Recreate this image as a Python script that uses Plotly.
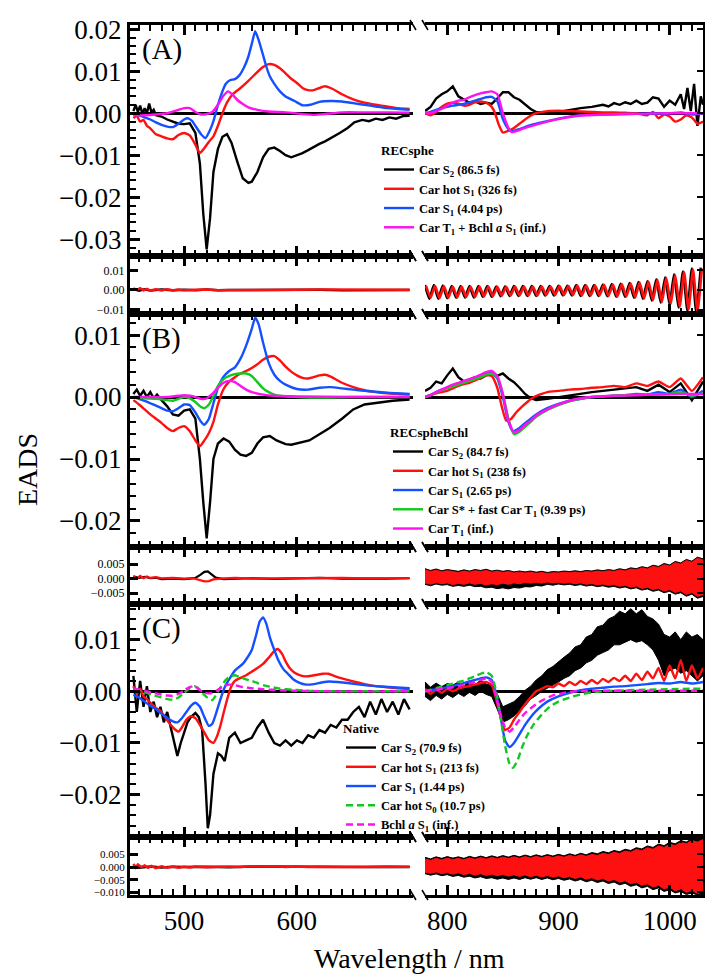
import plotly.graph_objects as go

W, H = 705, 974
FONT = "Liberation Serif, Times New Roman, serif"
U = 1e-3  # data below are in units of 1e-3

# ---------------- axis settings ----------------
LEFT_RANGE = [452, 703]
RIGHT_RANGE = [780, 1030]
ROW_RANGES = [[-0.034, 0.021], [-0.0123, 0.0174], [-0.0242, 0.0134],
              [-0.0088, 0.0109], [-0.0282, 0.0169], [-0.011, 0.0118]]
ROW_TICKS = [[-0.03, -0.02, -0.01, 0.0, 0.01, 0.02], [-0.01, 0.0, 0.01],
             [-0.02, -0.01, 0.0, 0.01], [-0.005, 0.0, 0.005],
             [-0.02, -0.01, 0.0, 0.01], [-0.01, -0.005, 0.0, 0.005]]
ROW_FMT = [".2f", ".2f", ".2f", ".3f", ".2f", ".3f"]
X_TICKS = [500, 600, 800, 900, 1000]

# ---------------- Panel A : RECsphe ----------------
A_S2_LEFT = [(455,0.5),(457,2.0),(459,0.3),(461,1.8),(463,-0.2),(465,1.2),(467,0.0),(469,2.3),(471,0.2),(473,0.8),(475,-0.5),(480,-0.8),(485,-1.5),(490,-2.0),(495,-2.5),(500,-2.6),(505,-2.4),(510,-4.7),(514,-12),(517,-24),(520,-32.4),(523,-25),(526,-14),(530,-8.5),(534,-5.6),(538,-5.0),(542,-7),(547,-11.4),(552,-15.5),(557,-16.6),(560,-16.3),(565,-14),(570,-10.5),(575,-8.5),(580,-8.2),(585,-9),(590,-10),(595,-10.5),(600,-10),(605,-9.5),(610,-8.8),(615,-8),(620,-7.3),(625,-6.7),(630,-6),(638,-4.7),(645,-3.5),(651,-2.2),(658,-1.6),(664,-1.9),(670,-1.3),(676,-1.6),(682,-1.0),(688,-1.3),(694,-0.7),(700,-0.6)]
A_HOT_LEFT = [(455,-1.2),(458,-0.6),(461,-2.0),(464,-1.6),(467,-3.0),(470,-3.6),(475,-5.0),(480,-5.5),(485,-6.0),(490,-6.2),(495,-5.2),(500,-4.7),(505,-5.3),(510,-7.5),(514,-9.5),(518,-8.3),(522,-6.8),(526,-5.5),(530,-3.0),(534,0.0),(538,2.5),(543,4.5),(550,6.0),(557,7.7),(563,9.3),(570,11.0),(575,11.7),(580,11.5),(585,10.7),(590,9.5),(595,8.2),(600,7.2),(605,6.0),(610,5.5),(615,5.5),(620,6.0),(625,6.4),(630,6.0),(635,5.3),(640,4.5),(650,3.3),(660,2.5),(670,2.0),(680,1.6),(690,1.2),(700,1.0)]
A_S1_LEFT = [(455,-0.2),(460,-0.5),(465,-1.0),(470,-1.5),(475,-2.2),(480,-2.8),(485,-3.2),(490,-3.3),(495,-2.5),(500,-1.5),(503,-1.2),(507,-1.8),(510,-3.0),(515,-5.0),(519,-5.9),(523,-4.0),(526,-1.9),(530,2.0),(533,4.5),(537,7.0),(541,7.9),(545,8.1),(549,9.0),(553,10.8),(557,13.5),(560,16.5),(563,19.5),(566,17.5),(569,14.8),(573,11.0),(576,8.8),(580,7.0),(585,5.2),(590,4.0),(598,2.9),(605,1.9),(612,2.0),(620,2.7),(630,2.9),(640,2.8),(650,2.4),(660,2.0),(670,1.6),(680,1.2),(690,1.0),(700,0.8)]
A_T1_LEFT = [(455,-0.5),(465,-0.5),(475,-0.3),(485,0.0),(495,0.8),(500,1.2),(505,1.2),(510,0.3),(515,-0.3),(520,-0.2),(525,0.3),(530,2.0),(535,4.2),(539,5.2),(543,4.4),(547,3.2),(552,2.2),(557,1.4),(565,0.8),(575,0.4),(590,0.2),(605,-0.2),(615,-0.4),(625,-0.2),(640,0.2),(660,0.2),(680,0.2),(700,0.1)]
A_S2_RIGHT = [(780,0.5),(785,1.5),(790,3.5),(795,4.5),(800,5.2),(805,6.4),(810,4.0),(815,3.2),(820,2.5),(825,2.8),(830,2.2),(835,2.5),(840,2.2),(845,3.5),(850,5.0),(855,5.0),(860,3.8),(865,3.2),(870,2.0),(875,1.0),(880,0.3),(890,0.2),(900,0.3),(910,0.8),(920,1.2),(930,1.5),(940,2.0),(945,1.6),(950,2.4),(955,2.0),(960,2.6),(965,2.2),(970,3.0),(975,2.2),(980,2.5),(985,3.8),(990,3.5),(995,1.5),(1000,3.0),(1005,2.0),(1010,4.5),(1013,1.0),(1016,6.0),(1019,0.5),(1022,7.0),(1025,-3.0),(1028,4.0),(1030,2.0)]
A_HOT_RIGHT = [(780,0.0),(785,-0.5),(790,0.3),(795,1.5),(800,2.3),(805,2.5),(810,2.3),(815,1.8),(820,2.0),(825,2.6),(830,2.8),(835,2.5),(840,1.5),(843,0.0),(846,-2.5),(850,-4.6),(855,-4.2),(860,-3.5),(865,-2.5),(870,-1.5),(875,-0.6),(880,0.0),(890,0.5),(900,0.6),(910,0.5),(920,0.4),(930,0.3),(940,0.2),(950,0.2),(960,0.1),(970,0.0),(980,-0.5),(985,0.3),(990,-1.2),(995,-0.3),(1000,-0.8),(1005,-2.0),(1010,-1.5),(1015,-0.5),(1020,-1.0),(1025,-2.5),(1030,-2.0)]
A_S1_RIGHT = [(780,0.0),(785,0.3),(790,0.8),(795,1.2),(800,1.5),(805,1.8),(810,2.0),(815,2.2),(820,2.6),(825,3.0),(830,3.4),(835,3.8),(840,3.9),(845,2.9),(850,-1.4),(855,-3.8),(858,-4.3),(865,-3.8),(872,-3.1),(880,-2.5),(890,-1.9),(900,-1.3),(913,-0.7),(925,-0.4),(943,-0.3),(960,-0.2),(980,-0.1),(1000,0.0),(1010,0.2),(1020,-0.3),(1030,0.0)]
A_T1_RIGHT = [(780,0.0),(785,0.0),(790,0.5),(795,1.0),(800,1.8),(805,2.5),(810,3.0),(815,3.2),(820,3.8),(825,4.3),(830,4.7),(835,5.0),(840,5.2),(845,4.5),(850,0.0),(855,-3.5),(858,-4.5),(865,-4.0),(872,-3.3),(880,-2.7),(890,-2.0),(900,-1.4),(913,-0.8),(925,-0.5),(943,-0.3),(960,-0.2),(980,-0.1),(1000,0.0),(1030,0.0)]

# ---------------- Panel B : RECspheBchl ----------------
B_S2_LEFT = [(455,0.5),(458,1.2),(461,0.2),(464,1.0),(467,0.0),(470,0.8),(473,-0.2),(476,0.4),(480,-0.5),(485,-1.5),(490,-2.8),(495,-3.0),(500,-2.2),(505,-2.0),(510,-3.5),(514,-10),(517,-17),(520,-22.8),(523,-17),(526,-10),(530,-7.5),(535,-6.7),(540,-7.2),(545,-8.5),(550,-9.3),(555,-9.5),(560,-9.0),(565,-7.5),(570,-6.5),(576,-6.3),(582,-7.0),(590,-7.6),(595,-7.7),(600,-7.5),(605,-7.3),(611,-7.0),(620,-6.0),(629,-5.0),(640,-3.5),(650,-2.0),(660,-1.2),(673,-0.9),(685,-0.6),(700,-0.4)]
B_HOT_LEFT = [(455,-0.5),(460,-1.2),(465,-2.0),(470,-2.8),(475,-3.5),(480,-4.2),(485,-5.0),(490,-5.5),(495,-5.0),(500,-4.7),(505,-5.5),(510,-7.0),(514,-7.9),(518,-7.0),(522,-5.8),(526,-4.0),(530,-1.2),(535,1.3),(540,2.5),(545,3.2),(550,3.8),(555,4.2),(560,4.7),(565,5.3),(570,6.0),(575,6.5),(580,6.6),(585,5.9),(590,4.9),(595,4.1),(600,3.5),(605,3.1),(610,3.0),(615,3.2),(620,3.5),(625,3.6),(630,3.3),(635,2.8),(640,2.3),(650,1.6),(660,1.1),(670,0.8),(680,0.6),(690,0.5),(700,0.4)]
B_S1_LEFT = [(455,0.0),(460,-0.3),(465,-0.6),(470,-1.0),(475,-1.4),(480,-1.8),(485,-2.2),(490,-2.3),(495,-1.8),(500,-1.2),(505,-1.3),(510,-2.5),(515,-4.0),(518,-4.5),(522,-3.5),(526,-1.0),(530,1.5),(535,3.3),(540,4.2),(545,4.8),(550,6.2),(555,8.3),(560,11.0),(563,12.8),(566,11.8),(570,8.8),(575,5.5),(580,3.6),(585,2.6),(590,2.0),(600,1.3),(610,1.2),(620,1.5),(630,1.6),(640,1.4),(650,1.2),(660,1.0),(680,0.7),(700,0.5)]
B_SX_LEFT = [(455,0.0),(465,-0.2),(475,-0.3),(485,-0.5),(490,-0.6),(495,-0.3),(500,0.0),(505,-0.2),(510,-0.8),(515,-1.6),(518,-1.8),(522,-1.2),(526,0.2),(530,1.8),(535,2.9),(540,3.4),(545,3.7),(550,3.8),(555,3.8),(560,3.4),(565,2.4),(570,1.4),(575,0.8),(580,0.4),(590,0.1),(600,0.0),(620,-0.1),(650,0.0),(700,0.0)]
B_T1_LEFT = [(455,0.0),(470,0.0),(485,0.0),(495,0.2),(500,0.3),(505,0.2),(510,0.0),(515,-0.3),(520,-0.2),(525,0.5),(530,1.5),(535,2.3),(540,2.6),(545,2.4),(550,1.8),(555,1.2),(560,0.8),(570,0.4),(580,0.2),(600,0.1),(650,0.0),(700,0.0)]
B_S2_RIGHT = [(780,1.0),(785,1.5),(790,2.5),(795,2.2),(800,3.5),(805,4.6),(810,3.2),(815,2.5),(820,2.8),(825,3.2),(830,3.0),(835,3.5),(840,4.0),(845,3.4),(850,3.8),(855,3.0),(860,2.4),(865,1.5),(870,0.5),(875,-0.2),(880,-0.5),(890,-0.3),(900,0.0),(910,0.3),(920,0.6),(930,0.8),(940,1.0),(950,1.2),(960,1.3),(970,1.6),(980,1.0),(990,2.0),(1000,0.8),(1010,2.2),(1020,-0.5),(1030,2.5)]
B_HOT_RIGHT = [(780,0.0),(785,0.3),(790,0.6),(795,0.8),(800,1.0),(805,1.4),(810,1.8),(815,2.1),(820,2.3),(825,2.7),(830,3.1),(835,3.5),(840,3.4),(845,1.5),(849,-1.5),(853,-3.8),(857,-3.6),(862,-2.5),(867,-1.6),(872,-0.8),(878,0.0),(885,0.5),(890,0.8),(900,1.0),(910,1.2),(920,1.3),(930,1.5),(940,1.6),(950,1.8),(960,1.6),(970,2.2),(980,1.8),(990,2.5),(1000,1.6),(1010,3.0),(1020,1.0),(1030,3.2)]
B_S1_RIGHT = [(780,0.0),(785,0.3),(790,0.8),(795,1.2),(800,1.5),(805,1.8),(810,2.1),(815,2.4),(820,2.7),(825,3.0),(830,3.3),(835,3.8),(840,3.9),(845,3.0),(850,0.0),(855,-4.0),(859,-5.5),(865,-5.0),(870,-4.2),(875,-3.5),(880,-2.8),(890,-1.8),(900,-1.1),(910,-0.6),(920,-0.3),(930,0.0),(940,0.1),(950,0.2),(960,0.3),(970,0.5),(980,0.4),(990,0.8),(1000,0.5),(1010,1.2),(1020,0.0),(1030,1.0)]
B_SX_RIGHT = [(780,0.0),(785,0.3),(790,0.7),(795,1.1),(800,1.4),(805,1.7),(810,2.0),(815,2.3),(820,2.6),(825,2.9),(830,3.2),(835,3.6),(840,3.8),(845,3.2),(850,0.5),(855,-3.5),(860,-6.0),(865,-5.6),(870,-4.8),(875,-4.0),(880,-3.2),(890,-2.1),(900,-1.3),(910,-0.7),(920,-0.3),(930,0.0),(940,0.1),(960,0.3),(980,0.4),(1000,0.5),(1010,0.8),(1020,0.2),(1030,0.6)]
B_T1_RIGHT = [(780,0.0),(785,0.3),(790,0.8),(795,1.2),(800,1.6),(805,2.0),(810,2.3),(815,2.6),(820,2.9),(825,3.2),(830,3.6),(835,4.0),(840,4.2),(845,3.4),(850,0.5),(855,-3.8),(860,-5.7),(865,-5.3),(870,-4.5),(875,-3.8),(880,-3.0),(890,-2.0),(900,-1.2),(910,-0.6),(920,-0.2),(930,0.0),(950,0.2),(970,0.3),(990,0.4),(1010,0.5),(1030,0.5)]

# ---------------- Panel C : Native ----------------
C_S2_LEFT = [(455,3.0),(458,-4.0),(461,2.0),(464,-3.0),(467,1.0),(470,-4.0),(473,-2.0),(476,-5.0),(479,-3.0),(482,-6.0),(485,-4.0),(488,-7.0),(491,-10.0),(494,-12.5),(497,-10.0),(500,-8.0),(503,-6.0),(506,-5.0),(510,-4.2),(513,-5.0),(516,-7.5),(519,-18.0),(521,-26.5),(523,-24.0),(526,-16.0),(530,-12.0),(533,-12.5),(536,-13.5),(540,-9.0),(545,-8.0),(550,-10.0),(555,-9.5),(560,-9.0),(565,-7.0),(570,-5.5),(575,-8.0),(580,-10.0),(585,-10.5),(590,-9.5),(595,-10.5),(600,-9.5),(605,-10.0),(610,-8.5),(615,-9.0),(620,-7.5),(625,-8.0),(630,-6.5),(635,-7.0),(640,-5.5),(645,-5.5),(650,-4.0),(655,-3.0),(660,-5.0),(665,-2.0),(670,-4.5),(675,-1.5),(680,-4.0),(685,-2.0),(690,-4.5),(695,-1.5),(700,-3.5)]
C_HOT_LEFT = [(455,1.0),(458,-0.5),(461,0.5),(464,-1.0),(467,-1.5),(470,-2.2),(475,-3.2),(479,-3.8),(483,-5.0),(487,-6.2),(491,-7.2),(495,-7.8),(498,-7.0),(502,-5.5),(506,-4.8),(510,-5.2),(514,-6.5),(518,-8.0),(522,-9.5),(526,-10.0),(529,-8.8),(532,-6.8),(535,-4.2),(538,-1.7),(541,0.5),(545,2.0),(550,2.6),(555,3.1),(560,3.8),(565,4.5),(570,5.3),(575,6.5),(580,7.8),(583,8.2),(587,7.2),(590,5.8),(594,4.4),(598,3.6),(603,3.1),(608,2.9),(613,3.0),(618,3.2),(623,3.4),(628,3.4),(633,3.0),(640,2.5),(650,1.9),(660,1.4),(670,1.0),(680,0.8),(690,0.6),(700,0.5)]
C_S1_LEFT = [(455,-0.7),(460,-1.2),(465,-2.0),(470,-2.8),(476,-3.6),(481,-4.5),(486,-5.3),(490,-5.8),(494,-6.0),(498,-5.2),(502,-4.0),(506,-2.8),(510,-2.2),(514,-3.0),(518,-5.0),(522,-6.7),(525,-6.3),(528,-4.5),(532,-1.7),(536,0.8),(541,2.7),(545,4.0),(548,4.6),(552,5.3),(556,6.5),(560,8.0),(564,11.0),(567,13.5),(570,14.3),(573,13.0),(576,10.5),(580,8.0),(584,5.8),(588,4.3),(592,3.4),(597,2.3),(602,1.7),(608,1.3),(615,1.4),(622,1.7),(629,1.9),(636,1.8),(645,1.6),(656,1.3),(670,1.0),(685,0.8),(700,0.6)]
C_S0_LEFT = [(455,0.0),(461,0.0),(467,-0.3),(473,-0.8),(479,-1.1),(485,-1.5),(490,-1.6),(495,-1.2),(500,-0.3),(505,0.6),(509,1.0),(513,0.5),(517,-0.5),(521,-1.3),(525,-1.7),(529,-0.5),(533,1.0),(537,2.2),(541,2.9),(545,3.1),(550,2.7),(555,2.3),(560,2.0),(565,1.6),(570,1.2),(576,0.9),(585,0.5),(596,0.3),(610,0.1),(630,0.0),(660,0.0),(700,0.0)]
C_BCHL_LEFT = [(455,0.5),(461,0.3),(467,0.0),(473,-0.3),(479,-0.6),(485,-0.8),(490,-0.9),(495,-0.5),(500,0.2),(505,0.8),(509,1.0),(513,0.4),(517,-0.2),(521,-0.4),(525,-0.3),(530,0.3),(535,1.0),(540,1.3),(545,1.2),(550,0.9),(560,0.6),(570,0.4),(585,0.2),(600,0.1),(630,0.0),(700,0.0)]
# noisy black trace right of the break, as (wavelength, low, high) envelope
C_S2_RIGHT_BAND = [(780,-1.0,1.8),(785,-1.8,0.8),(790,-0.8,1.6),(795,-1.5,0.9),(800,-0.6,1.5),(805,-1.2,1.2),(810,-0.4,1.8),(815,-1.0,1.0),(820,-0.2,2.0),(825,-0.8,1.2),(830,0.0,2.2),(835,-0.6,1.4),(840,-1.0,1.2),(845,-3.5,-0.5),(850,-6.0,-3.0),(855,-5.5,-2.5),(860,-4.8,-2.0),(865,-3.8,-1.0),(870,-2.8,0.2),(875,-1.5,1.0),(880,-0.8,2.2),(885,0.0,3.0),(890,0.5,4.2),(895,1.2,4.8),(900,1.8,5.8),(905,2.5,6.6),(910,3.0,7.4),(915,4.0,8.6),(920,4.5,9.0),(925,5.5,10.5),(930,6.0,11.0),(935,7.0,12.5),(940,7.5,12.8),(945,8.0,14.0),(950,9.0,14.5),(955,9.0,15.5),(960,9.5,15.0),(965,10.0,16.0),(970,9.5,15.0),(975,9.8,15.8),(980,9.0,14.5),(985,8.0,14.0),(990,6.0,13.0),(995,3.0,11.0),(1000,4.0,10.5),(1005,4.5,11.5),(1010,3.5,10.0),(1015,4.0,11.5),(1020,3.0,10.5),(1025,2.0,11.0),(1030,3.0,10.0)]
C_HOT_RIGHT = [(780,0.5),(785,-0.5),(790,0.3),(795,-0.3),(800,0.5),(805,0.0),(810,0.5),(815,0.8),(820,1.0),(825,1.3),(830,1.6),(835,1.8),(840,1.2),(844,-1.5),(848,-5.0),(852,-7.5),(856,-7.0),(860,-5.5),(865,-4.0),(870,-2.5),(875,-1.2),(880,0.0),(885,0.5),(890,1.0),(895,0.8),(900,1.5),(905,1.0),(910,1.8),(915,1.2),(920,2.0),(925,1.4),(930,2.2),(935,1.5),(940,2.4),(945,1.8),(950,2.6),(955,2.0),(960,3.0),(965,2.0),(970,3.4),(975,2.2),(980,3.8),(985,2.5),(990,4.5),(995,2.0),(1000,5.0),(1005,2.5),(1010,6.0),(1015,2.0),(1020,5.0),(1025,2.5),(1030,4.5)]
C_S1_RIGHT = [(780,0.0),(785,0.2),(790,0.4),(795,0.6),(800,0.8),(805,1.0),(810,1.3),(815,1.6),(820,1.9),(825,2.2),(830,2.5),(835,2.7),(840,2.2),(844,-0.5),(848,-5.0),(852,-9.5),(856,-10.8),(860,-10.0),(865,-8.3),(870,-6.5),(875,-5.0),(880,-3.8),(885,-2.8),(890,-2.0),(900,-1.0),(910,-0.3),(920,0.2),(930,0.5),(940,0.7),(950,0.9),(960,1.0),(970,1.2),(980,1.4),(990,1.6),(1000,1.5),(1010,1.8),(1020,1.5),(1030,1.8)]
C_S0_RIGHT = [(780,0.0),(785,0.3),(790,0.6),(795,0.9),(800,1.2),(805,1.5),(810,1.8),(815,2.1),(820,2.5),(825,2.9),(830,3.4),(835,3.7),(840,3.0),(844,0.0),(848,-5.0),(852,-10.5),(856,-14.0),(859,-14.8),(863,-13.5),(867,-11.0),(872,-8.5),(878,-6.3),(885,-4.5),(892,-3.0),(900,-2.0),(910,-1.2),(920,-0.6),(930,-0.2),(940,0.0),(960,0.2),(980,0.3),(1000,0.4),(1020,0.5),(1030,0.5)]
C_BCHL_RIGHT = [(780,0.0),(790,0.3),(800,0.6),(810,1.0),(820,1.5),(830,2.2),(836,2.5),(840,1.8),(844,-1.0),(848,-4.5),(852,-7.0),(856,-7.8),(860,-7.0),(865,-5.5),(870,-4.2),(878,-2.8),(885,-1.8),(895,-0.8),(905,-0.3),(915,0.0),(940,0.1),(970,0.1),(1000,0.1),(1030,0.1)]

# ---------------- Residuals ----------------
RA_S2_LEFT = [(455,0.6),(460,-0.4),(465,0.3),(470,-0.3),(480,0.2),(490,-0.2),(500,0.1),(510,-0.1),(520,0.2),(530,-0.1),(540,0.0),(560,0.1),(580,-0.1),(600,0.0),(620,0.1),(640,-0.1),(660,0.0),(680,0.1),(700,0.0)]
RA_HOT_LEFT = [(455,0.8),(458,0.0),(461,0.9),(464,-0.2),(467,0.6),(470,-0.3),(475,0.4),(480,-0.2),(485,0.3),(490,-0.3),(495,0.2),(500,-0.2),(510,0.1),(520,0.2),(530,-0.2),(540,-0.1),(550,-0.3),(560,-0.1),(570,0.1),(580,0.0),(590,0.2),(600,0.1),(620,0.2),(640,0.1),(660,0.2),(680,0.1),(700,0.1)]
RA_S2_RIGHT = [(780,2.5),(784,-4.5),(788,2.5),(792,-4.5),(796,2.3),(800,-4.2),(804,2.0),(808,-4.0),(812,2.0),(816,-3.8),(820,2.0),(824,-3.8),(828,2.0),(832,-3.5),(836,2.0),(840,-3.5),(844,1.8),(848,-3.2),(852,1.8),(856,-3.0),(860,2.0),(864,-3.0),(868,2.0),(872,-3.0),(876,2.0),(880,-3.0),(884,2.0),(888,-2.8),(892,2.0),(896,-2.8),(900,2.2),(904,-2.8),(908,2.2),(912,-2.8),(916,2.5),(920,-3.0),(924,2.5),(928,-3.0),(932,2.5),(936,-3.0),(940,2.8),(944,-3.2),(948,3.0),(952,-3.5),(956,3.2),(960,-3.5),(964,3.5),(968,-4.0),(972,4.0),(976,-4.5),(980,4.5),(984,-5.5),(988,5.5),(992,-6.5),(996,6.5),(1000,-7.5),(1004,8.0),(1008,-9.0),(1012,9.5),(1016,-10.5),(1020,11.0),(1024,-11.5),(1028,11.5)]
RA_HOT_RIGHT = [(781,2.0),(785,-4.0),(789,2.2),(793,-4.2),(797,2.0),(801,-4.0),(805,1.8),(809,-3.8),(813,1.8),(817,-3.6),(821,1.8),(825,-3.6),(829,1.8),(833,-3.3),(837,1.8),(841,-3.3),(845,1.6),(849,-3.0),(853,1.6),(857,-2.8),(861,1.8),(865,-2.8),(869,1.8),(873,-2.8),(877,1.8),(881,-2.8),(885,1.8),(889,-2.6),(893,1.8),(897,-2.6),(901,2.0),(905,-2.6),(909,2.0),(913,-2.6),(917,2.3),(921,-2.8),(925,2.3),(929,-2.8),(933,2.3),(937,-2.8),(941,2.6),(945,-3.0),(949,2.8),(953,-3.3),(957,3.0),(961,-3.3),(965,3.3),(969,-3.8),(973,3.8),(977,-4.3),(981,4.3),(985,-5.2),(989,5.2),(993,-6.2),(997,6.2),(1001,-7.2),(1005,7.6),(1009,-8.6),(1013,9.0),(1017,-10.0),(1021,10.5),(1025,-11.0),(1029,11.0)]
RB_S2_LEFT = [(455,0.8),(460,0.2),(465,0.6),(470,0.1),(475,0.3),(480,-0.2),(490,0.0),(500,-0.2),(505,0.0),(510,0.2),(514,1.2),(518,2.3),(521,2.5),(524,1.6),(528,0.3),(535,-0.2),(545,0.0),(560,0.1),(580,-0.1),(600,0.0),(620,0.2),(640,0.0),(660,-0.1),(680,0.0),(700,0.1)]
RB_HOT_LEFT = [(455,0.8),(458,0.0),(461,0.9),(464,0.1),(467,0.7),(470,0.2),(475,0.5),(480,0.1),(490,0.2),(500,0.0),(508,0.1),(514,-0.4),(518,-1.0),(522,-0.9),(526,-0.3),(532,0.0),(545,0.2),(560,0.0),(580,0.1),(600,0.0),(620,0.1),(640,0.2),(660,0.1),(680,0.2),(700,0.1)]
# noise bands: (wavelength, low, high)
RB_S2_RIGHT_BAND = [(780,-2.0,3.4),(785,-2.5,2.8),(790,-1.9,3.3),(795,-2.3,2.7),(800,-2.1,3.1),(805,-2.7,2.9),(810,-2.4,2.5),(815,-2.7,3.0),(820,-2.3,2.6),(825,-2.8,3.1),(830,-2.7,2.8),(835,-3.2,3.2),(840,-3.0,2.6),(845,-3.5,2.9),(850,-3.2,2.5),(855,-3.6,2.8),(860,-3.1,2.3),(865,-3.3,2.6),(870,-2.8,2.3),(875,-2.9,2.6),(880,-2.4,2.2),(885,-2.6,2.5),(890,-2.0,2.1),(895,-2.3,2.4),(900,-1.9,2.3),(905,-2.2,2.6),(910,-2.0,2.4),(915,-2.4,2.7),(920,-2.1,2.4),(925,-2.6,2.8),(930,-2.3,2.6),(935,-2.8,3.0),(940,-2.5,2.7),(945,-3.0,3.1),(950,-2.7,2.8),(955,-3.3,3.4),(960,-2.9,3.0),(965,-3.6,3.7),(970,-3.2,3.4),(975,-4.0,4.1),(980,-3.6,3.7),(985,-4.4,4.6),(990,-4.0,4.2),(995,-4.9,5.2),(1000,-4.4,4.7),(1005,-5.4,5.9),(1010,-4.9,5.4),(1015,-6.1,6.6),(1020,-5.4,6.0),(1025,-6.8,7.4),(1030,-6.2,6.8)]
RB_HOT_RIGHT_BAND = [(780,-1.5,3.0),(785,-2.0,2.4),(790,-1.4,2.9),(795,-1.8,2.3),(800,-1.5,2.7),(805,-2.1,2.5),(810,-1.7,2.1),(815,-2.0,2.6),(820,-1.5,2.2),(825,-2.0,2.7),(830,-1.7,2.4),(835,-2.2,2.8),(840,-1.8,2.2),(845,-2.1,2.5),(850,-1.6,2.1),(855,-2.0,2.4),(860,-1.5,1.9),(865,-1.8,2.2),(870,-1.3,1.9),(875,-1.6,2.2),(880,-1.3,1.8),(885,-1.6,2.1),(890,-1.2,1.7),(895,-1.5,2.0),(900,-1.3,1.9),(905,-1.6,2.2),(910,-1.4,2.0),(915,-1.8,2.3),(920,-1.5,2.0),(925,-2.0,2.4),(930,-1.7,2.2),(935,-2.2,2.6),(940,-1.9,2.3),(945,-2.4,2.7),(950,-2.1,2.4),(955,-2.7,3.0),(960,-2.3,2.6),(965,-3.0,3.3),(970,-2.6,3.0),(975,-3.4,3.7),(980,-3.0,3.3),(985,-3.8,4.2),(990,-3.4,3.8),(995,-4.3,4.8),(1000,-3.8,4.3),(1005,-4.8,5.5),(1010,-4.3,5.0),(1015,-5.5,6.2),(1020,-4.8,5.6),(1025,-6.2,7.0),(1030,-5.6,6.4)]
RC_S2_LEFT = [(455,0.6),(460,-0.3),(470,0.2),(480,-0.2),(490,0.1),(500,0.0),(520,0.1),(540,-0.1),(560,0.2),(580,0.1),(600,0.1),(620,0.0),(640,0.1),(660,0.0),(680,0.1),(700,0.0)]
RC_HOT_LEFT = [(455,1.2),(457,-0.2),(459,1.0),(462,0.0),(465,0.6),(468,-0.3),(471,0.4),(475,-0.4),(480,0.3),(485,-0.3),(490,0.2),(495,-0.3),(500,0.1),(505,-0.2),(510,0.2),(520,-0.1),(530,0.1),(540,0.2),(550,0.0),(560,0.3),(570,0.2),(580,0.3),(590,0.0),(600,0.2),(610,0.0),(620,0.1),(640,0.0),(660,0.1),(680,0.0),(700,0.1)]
RC_S2_RIGHT_BAND = [(780,-2.6,3.8),(785,-3.2,3.2),(790,-2.7,4.0),(795,-3.4,3.4),(800,-3.0,4.1),(805,-3.7,3.5),(810,-3.3,4.0),(815,-4.0,3.4),(820,-3.6,4.2),(825,-4.3,3.6),(830,-3.8,4.3),(835,-4.5,3.7),(840,-4.2,4.4),(845,-4.8,3.8),(850,-4.3,4.5),(855,-4.9,3.9),(860,-4.3,4.6),(865,-4.9,4.0),(870,-4.2,4.7),(875,-4.8,4.1),(880,-4.2,4.8),(885,-4.9,4.2),(890,-4.3,4.9),(895,-5.0,4.3),(900,-4.5,5.0),(905,-5.2,4.4),(910,-4.7,5.2),(915,-5.5,4.6),(920,-4.9,5.4),(925,-5.8,4.8),(930,-5.2,5.7),(935,-6.1,5.2),(940,-5.5,6.1),(945,-6.5,5.6),(950,-5.9,6.5),(955,-7.0,6.0),(960,-6.4,7.0),(965,-7.6,6.5),(970,-7.0,7.6),(975,-8.2,7.1),(980,-7.6,8.3),(985,-8.9,7.7),(990,-8.2,9.0),(995,-9.6,8.4),(1000,-8.9,9.7),(1005,-10.2,9.1),(1010,-9.6,10.4),(1015,-10.8,9.8),(1020,-10.2,11.1),(1025,-11.0,10.5),(1030,-10.8,11.5)]
RC_HOT_RIGHT_BAND = [(780,-2.0,3.2),(785,-2.5,2.6),(790,-1.9,3.4),(795,-2.6,2.8),(800,-2.2,3.5),(805,-2.8,2.9),(810,-2.3,3.4),(815,-3.0,2.8),(820,-2.5,3.6),(825,-3.2,3.0),(830,-2.6,3.7),(835,-3.3,3.1),(840,-2.8,3.8),(845,-3.4,3.2),(850,-2.9,3.9),(855,-3.6,3.3),(860,-3.0,4.0),(865,-3.7,3.4),(870,-3.1,4.1),(875,-3.8,3.5),(880,-3.2,4.2),(885,-3.9,3.6),(890,-3.3,4.3),(895,-4.0,3.7),(900,-3.5,4.4),(905,-4.2,3.8),(910,-3.7,4.6),(915,-4.5,4.0),(920,-3.9,4.8),(925,-4.8,4.2),(930,-4.2,5.0),(935,-5.1,4.5),(940,-4.5,5.4),(945,-5.5,4.9),(950,-4.9,5.8),(955,-6.0,5.3),(960,-5.4,6.3),(965,-6.6,5.8),(970,-6.0,6.9),(975,-7.2,6.4),(980,-6.6,7.6),(985,-7.9,7.0),(990,-7.2,8.3),(995,-8.6,7.7),(1000,-7.9,9.0),(1005,-9.3,8.4),(1010,-8.6,9.7),(1015,-9.9,9.1),(1020,-9.2,10.4),(1025,-10.4,9.8),(1030,-9.8,10.8)]

# ---------------- legend texts ----------------
A_NAMES = ["Car S<sub>2</sub> (86.5 fs)", "Car hot S<sub>1</sub> (326 fs)", "Car S<sub>1</sub> (4.04 ps)",
           "Car T<sub>1</sub> + Bchl <i>a</i> S<sub>1</sub> (inf.)"]
B_NAMES = ["Car S<sub>2</sub> (84.7 fs)", "Car hot S<sub>1</sub> (238 fs)", "Car S<sub>1</sub> (2.65 ps)",
           "Car S* + fast Car T<sub>1</sub> (9.39 ps)", "Car T<sub>1</sub> (inf.)"]
C_NAMES = ["Car S<sub>2</sub> (70.9 fs)", "Car hot S<sub>1</sub> (213 fs)", "Car S<sub>1</sub> (1.44 ps)",
           "Car hot S<sub>0</sub> (10.7 ps)", "Bchl <i>a</i> S<sub>1</sub> (inf.)"]
LEGEND_TITLES = ["RECsphe", "RECspheBchl", "Native"]
PANEL_LABELS = ["(A)", "(B)", "(C)"]

BLACK, RED, BLUE, GREEN, MAGENTA = "#000000", "#ff1010", "#1450ff", "#10c81e", "#ff10ee"

# ---------------- layout geometry (pixels) ----------------
XL = [130, 413]
XR = [425, 703]
ROW_EDGES = [25, 256, 314, 547, 604, 837, 895]

fig = go.Figure()


def ax_ids(row, side):
    n = row * 2 + side + 1
    return ("x" if n == 1 else f"x{n}"), ("y" if n == 1 else f"y{n}"), n


def add_line(pairs, row, side, color, width=2.4, dash=None, name=None, legend="legend", smooth=True):
    xa, ya, _ = ax_ids(row, side)
    fig.add_trace(go.Scatter(
        x=[p[0] for p in pairs], y=[p[1] * U for p in pairs], mode="lines",
        xaxis=xa, yaxis=ya,
        line=dict(color=color, width=width, dash=dash,
                  shape="spline" if smooth else "linear", smoothing=0.5),
        name=name if name else "", showlegend=name is not None, legend=legend,
        hoverinfo="skip"))


def add_band(triples, row, side, color):
    xa, ya, _ = ax_ids(row, side)
    xs = [t[0] for t in triples] + [t[0] for t in triples[::-1]]
    ys = [t[2] * U for t in triples] + [t[1] * U for t in triples[::-1]]
    fig.add_trace(go.Scatter(x=xs, y=ys, mode="lines", fill="toself", fillcolor=color,
                             line=dict(color=color, width=1), xaxis=xa, yaxis=ya,
                             showlegend=False, hoverinfo="skip"))


DASH = "7px,4px"
panels = [
    (0, "legend", A_NAMES,
     [(A_S2_LEFT, A_S2_RIGHT, BLACK, None), (A_HOT_LEFT, A_HOT_RIGHT, RED, None),
      (A_S1_LEFT, A_S1_RIGHT, BLUE, None), (A_T1_LEFT, A_T1_RIGHT, MAGENTA, None)]),
    (2, "legend2", B_NAMES,
     [(B_S2_LEFT, B_S2_RIGHT, BLACK, None), (B_HOT_LEFT, B_HOT_RIGHT, RED, None),
      (B_S1_LEFT, B_S1_RIGHT, BLUE, None), (B_SX_LEFT, B_SX_RIGHT, GREEN, None),
      (B_T1_LEFT, B_T1_RIGHT, MAGENTA, None)]),
    (4, "legend3", C_NAMES,
     [(C_S2_LEFT, None, BLACK, None), (C_HOT_LEFT, C_HOT_RIGHT, RED, None),
      (C_S1_LEFT, C_S1_RIGHT, BLUE, None), (C_S0_LEFT, C_S0_RIGHT, GREEN, DASH),
      (C_BCHL_LEFT, C_BCHL_RIGHT, MAGENTA, DASH)]),
]
for row, leg, names, series in panels:
    for (left, right, color, dash), nm in zip(series, names):
        noisy_black = (color == BLACK)
        add_line(left, row, 0, color, dash=dash, name=nm, legend=leg, smooth=not noisy_black)
        if right is None:
            add_band(C_S2_RIGHT_BAND, row, 1, color)
        else:
            add_line(right, row, 1, color, dash=dash, smooth=not noisy_black)

# residuals
add_line(RA_S2_LEFT, 1, 0, BLACK, width=2.5, smooth=False)
add_line(RA_HOT_LEFT, 1, 0, RED, width=2.5, smooth=False)
add_line(RA_S2_RIGHT, 1, 1, BLACK, width=2.6)
add_line(RA_HOT_RIGHT, 1, 1, RED, width=2.6)
add_line(RB_S2_LEFT, 3, 0, BLACK, width=2.2, smooth=False)
add_line(RB_HOT_LEFT, 3, 0, RED, width=2.2, smooth=False)
add_band(RB_S2_RIGHT_BAND, 3, 1, BLACK)
add_band(RB_HOT_RIGHT_BAND, 3, 1, RED)
add_line(RC_S2_LEFT, 5, 0, BLACK, width=2.5, smooth=False)
add_line(RC_HOT_LEFT, 5, 0, RED, width=2.5, smooth=False)
add_band(RC_S2_RIGHT_BAND, 5, 1, BLACK)
add_band(RC_HOT_RIGHT_BAND, 5, 1, RED)

# ---------------- axes ----------------
layout = dict(width=W, height=H, margin=dict(l=0, r=0, t=0, b=0, autoexpand=False),
              paper_bgcolor="white", plot_bgcolor="white", shapes=[], annotations=[])
RES_FONT = [None, 12, None, 12, None, 11]
for row in range(6):
    y0 = 1 - ROW_EDGES[row + 1] / H
    y1 = 1 - ROW_EDGES[row] / H
    main = row % 2 == 0
    for side in (0, 1):
        xa, ya, n = ax_ids(row, side)
        kx = "xaxis" if n == 1 else f"xaxis{n}"
        ky = "yaxis" if n == 1 else f"yaxis{n}"
        dom = XL if side == 0 else XR
        layout[kx] = dict(
            domain=[dom[0] / W, dom[1] / W], range=LEFT_RANGE if side == 0 else RIGHT_RANGE,
            anchor=ya, showline=True, linewidth=3, linecolor="black", mirror="ticks",
            ticks="inside", ticklen=10, tickwidth=2.5, tickcolor="black",
            tickvals=X_TICKS, minor=dict(dtick=10, tick0=0, ticks="inside", ticklen=6,
                                         tickwidth=2, tickcolor="black", showgrid=False),
            showgrid=False, zeroline=False, showticklabels=(row == 5), automargin=False,
            tickfont=dict(family=FONT, size=27, color="black"), fixedrange=True)
        ycfg = dict(domain=[y0, y1], range=ROW_RANGES[row], anchor=xa, automargin=False,
                    showgrid=False, zeroline=main, zerolinecolor="black", zerolinewidth=3,
                    tickvals=ROW_TICKS[row], tickformat=ROW_FMT[row], fixedrange=True,
                    tickcolor="black", linecolor="black")
        if side == 0:
            ycfg.update(side="left", showline=True, linewidth=3, mirror=False,
                        ticks="inside", ticklen=10 if main else 8, tickwidth=2.5,
                        tickfont=dict(family=FONT, size=27 if main else RES_FONT[row],
                                      color="black"))
            if main:
                ycfg["minor"] = dict(dtick=0.002, tick0=0, ticks="inside", ticklen=6,
                                     tickwidth=2, tickcolor="black", showgrid=False)
        else:
            ycfg.update(side="right", showline=True, linewidth=1.5, mirror=False,
                        ticks="inside", ticklen=6, tickwidth=2, showticklabels=False)
        layout[ky] = ycfg
        # axis-break marks
        for ydom in (0, 1):
            layout["shapes"].append(dict(
                type="line", xref=f"{xa} domain", yref=f"{ya} domain",
                xsizemode="pixel", xanchor=1 if side == 0 else 0, x0=-3, x1=3,
                ysizemode="pixel", yanchor=ydom, y0=5, y1=-5,
                line=dict(color="black", width=1.5)))

# legends
LEG_POS = [(379, 138), (388, 420), (341, 716)]
leg_keys = ["legend", "legend2", "legend3"]
for key, (lx, ly), title in zip(leg_keys, LEG_POS, LEGEND_TITLES):
    layout[key] = dict(x=lx / W, y=1 - ly / H, xanchor="left", yanchor="top",
                       bgcolor="rgba(0,0,0,0)", borderwidth=0, tracegroupgap=0,
                       itemwidth=30, traceorder="normal",
                       font=dict(family=FONT, size=12.5, color="black", weight="bold"),
                       title=dict(text=f"<b>{title}</b>",
                                  font=dict(family=FONT, size=13, color="black")))

# panel labels
for row, lab in zip((0, 2, 4), PANEL_LABELS):
    xa, ya, _ = ax_ids(row, 0)
    layout["annotations"].append(dict(
        text=lab, xref=f"{xa} domain", yref=f"{ya} domain", x=0, y=1,
        xshift=10, yshift=-6, xanchor="left", yanchor="top", showarrow=False,
        font=dict(family=FONT, size=29, color="black")))

layout["annotations"].append(dict(
    text="EADS", xref="paper", yref="paper", x=27 / W, y=1 - 470 / H, textangle=-90,
    showarrow=False, xanchor="center", yanchor="middle",
    font=dict(family=FONT, size=28, color="black")))
layout["annotations"].append(dict(
    text="Wavelength / nm", xref="paper", yref="paper", x=410 / W, y=1 - 958 / H,
    showarrow=False, xanchor="center", yanchor="middle",
    font=dict(family=FONT, size=28, color="black")))

fig.update_layout(**layout)
fig.write_html("out.html")
